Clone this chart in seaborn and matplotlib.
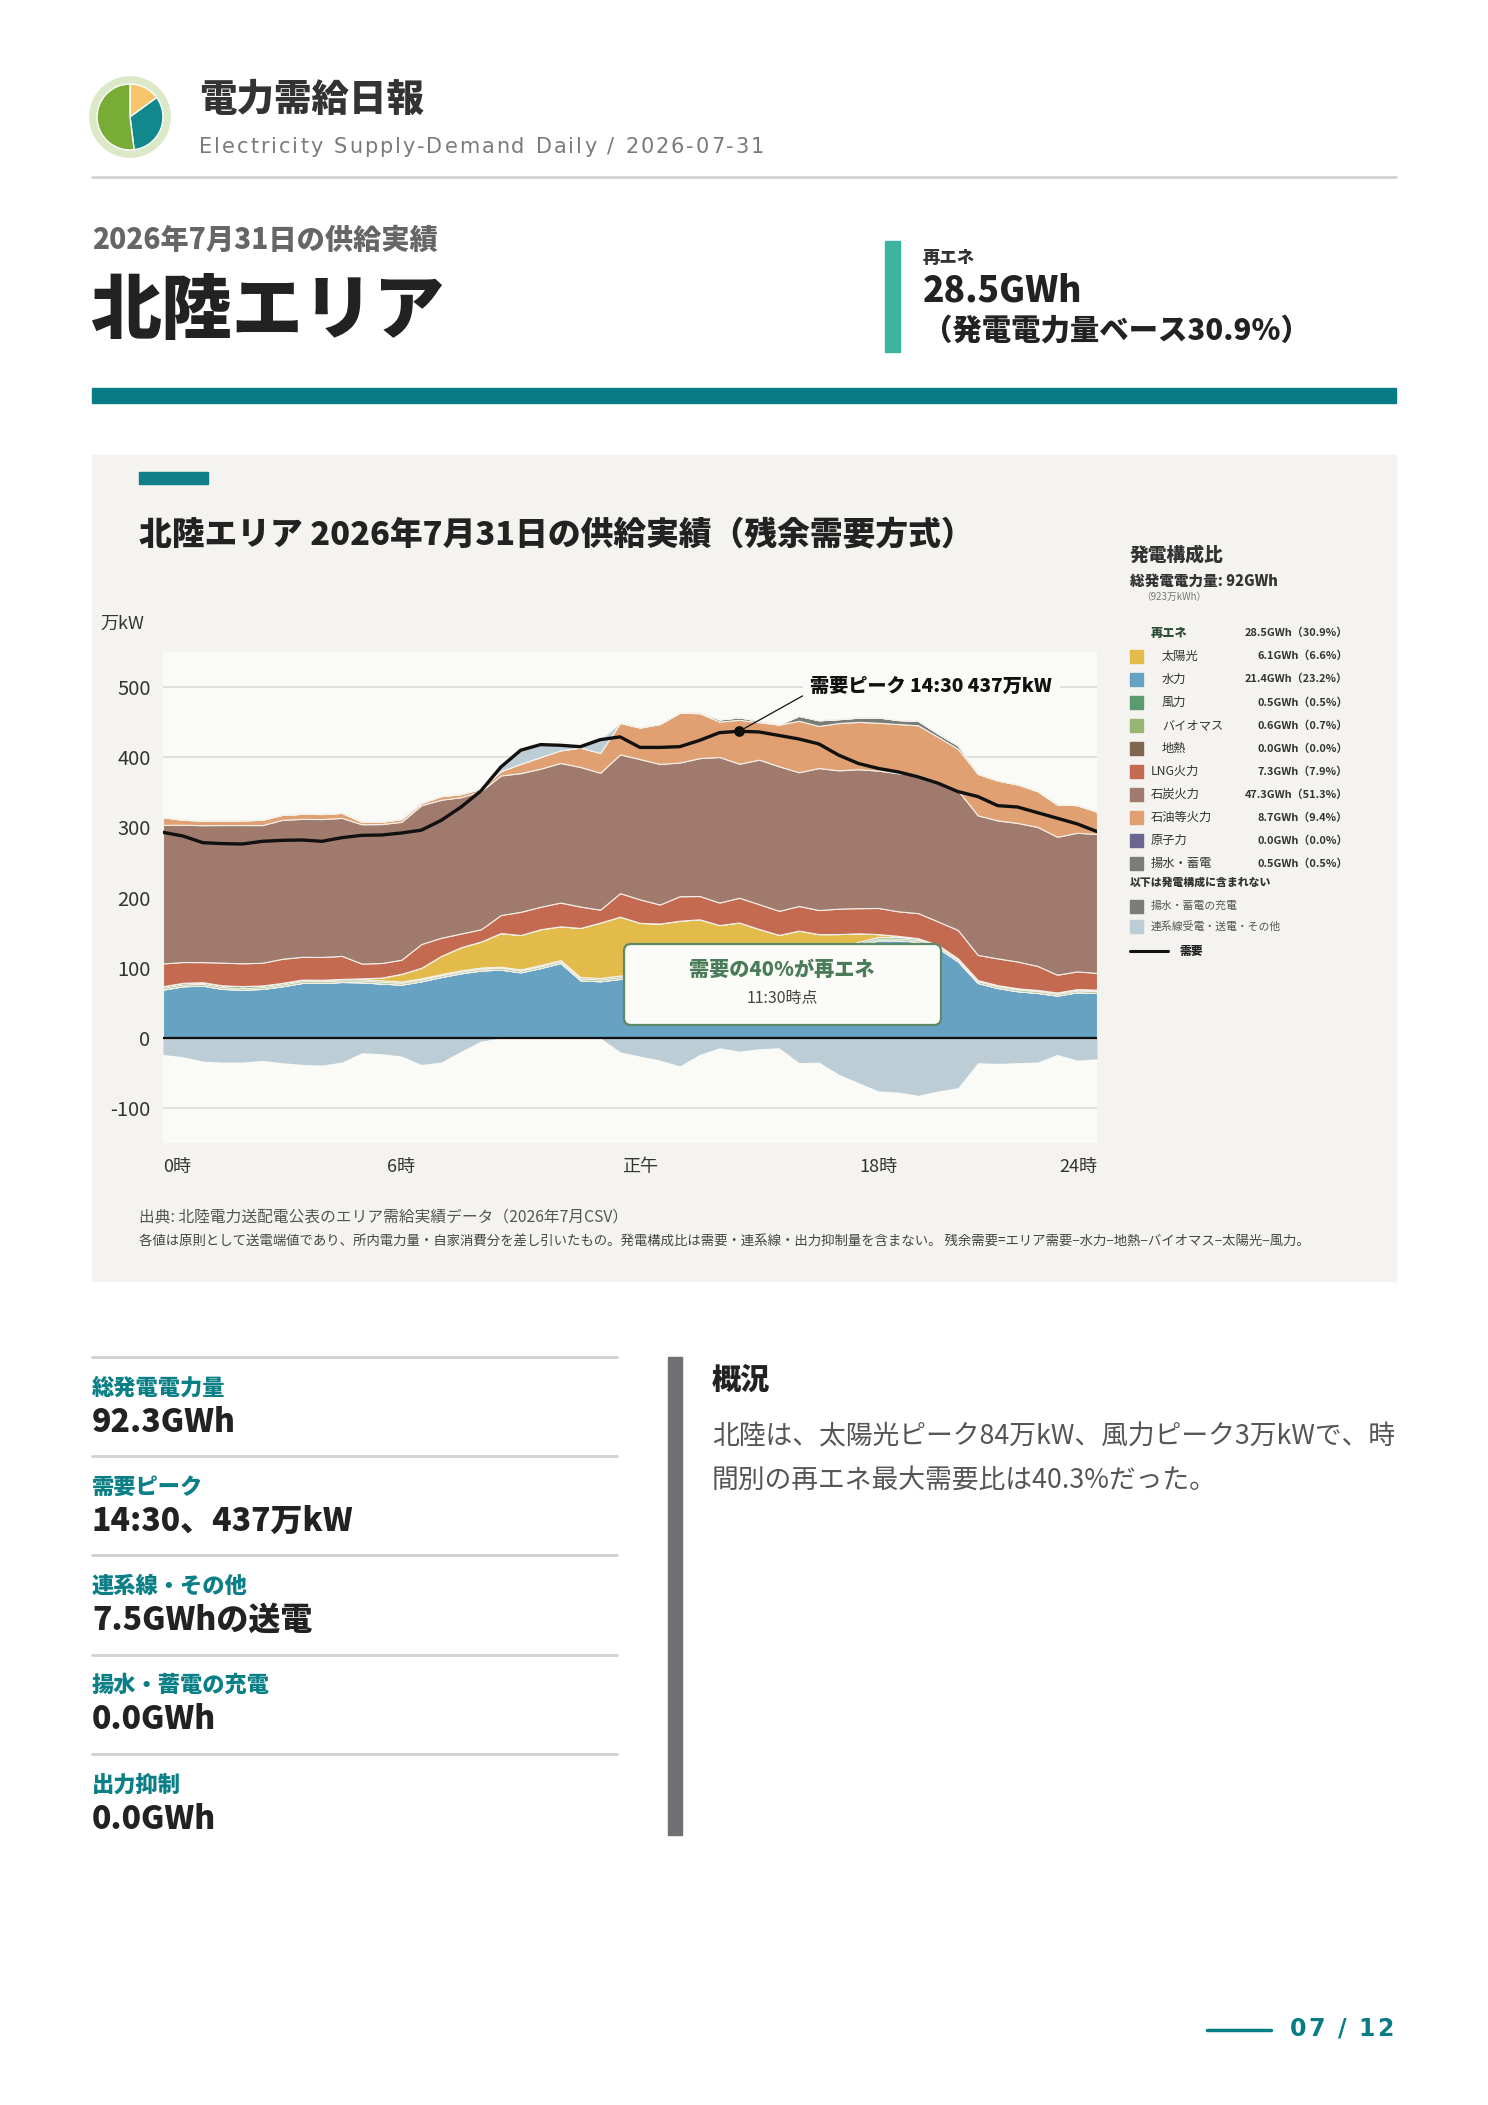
import numpy as np
import matplotlib
matplotlib.use("Agg")
import matplotlib.pyplot as plt
from matplotlib.patches import Rectangle, FancyBboxPatch, Circle
import seaborn as sns

# ---- 北陸エリア 2026-07-31, 30分値 (万kW) ----
hours = np.arange(0, 24, 0.5)

hydro = [68.7, 73.5, 74.4, 69.7, 68.7, 69.7, 73.5, 78.2, 78.2, 79.6, 79.1, 77.3,
         75.8, 80.6, 86.7, 92.0, 96.0, 97.2, 93.4, 99.5, 106.6, 82.0, 80.6, 84.0,
         85.0, 84.0, 90.0, 95.7, 93.4, 102.2, 99.7, 99.2, 111.4, 114.7, 122.7, 132.0,
         139.0, 139.0, 137.0, 128.0, 109.0, 78.2, 71.0, 66.4, 64.0, 60.2, 65.0, 64.0]
geothermal = [0.0] * 48
biomass = [2.5, 2.5, 2.6, 2.5, 2.4, 2.5, 2.5, 2.6, 2.5, 2.4, 2.5, 2.5,
           2.6, 2.5, 2.5, 2.4, 2.5, 2.6, 2.5, 2.5, 2.4, 2.5, 2.6, 2.5,
           2.5, 2.4, 2.5, 2.6, 2.5, 2.5, 2.4, 2.5, 2.6, 2.5, 2.5, 2.4,
           2.5, 2.6, 2.5, 2.5, 2.4, 2.5, 2.5, 2.6, 2.5, 2.5, 2.4, 2.5]
wind = [2.3, 2.4, 2.2, 2.5, 2.6, 2.4, 2.3, 2.2, 2.0, 1.9, 2.1, 2.0,
        1.8, 1.7, 1.6, 1.8, 1.7, 1.5, 1.6, 1.8, 1.9, 2.1, 2.0, 2.2,
        2.3, 2.5, 2.4, 2.6, 2.8, 2.7, 2.9, 3.0, 2.8, 2.6, 2.7, 2.5,
        2.3, 2.2, 2.0, 1.9, 1.8, 1.6, 1.5, 1.6, 1.7, 1.9, 2.0, 2.1]
solar = [0, 0, 0, 0, 0, 0, 0, 0, 0, 0, 1.0, 4.0,
         11.0, 15.0, 26.0, 33.0, 37.0, 48.0, 49.0, 51.0, 48.0, 70.0, 79.0, 84.0,
         74.0, 74.0, 72.0, 68.0, 62.0, 57.0, 50.0, 42.0, 36.0, 28.0, 20.0, 12.0,
         4.0, 1.5, 0.5, 0, 0, 0, 0, 0, 0, 0, 0, 0]
nuclear = [0.0] * 48
lng = [32.5, 29.6, 28.7, 32.4, 32.5, 32.4, 34.3, 32.5, 32.5, 32.9, 21.1, 20.8,
       20.1, 33.9, 25.8, 19.5, 17.5, 25.7, 33.1, 32.0, 33.9, 30.5, 18.4, 33.5,
       33.5, 27.1, 34.9, 33.2, 32.1, 35.3, 35.4, 34.3, 35.1, 34.3, 36.2, 35.9,
       37.3, 35.0, 35.7, 33.4, 40.5, 35.8, 38.2, 38.1, 34.3, 25.3, 25.3, 23.9]
coal = [197.6, 195.7, 195.2, 196.2, 197.1, 196.2, 198.1, 196.6, 196.6, 196.7, 198.6, 198.1,
        196.6, 197.8, 196.8, 194.3, 197.0, 199.0, 197.7, 196.9, 199.0, 199.0, 195.2, 197.8,
        200.0, 200.4, 190.6, 196.6, 207.5, 191.0, 206.1, 206.0, 190.7, 202.4, 197.2, 198.1,
        195.8, 196.8, 196.7, 199.1, 199.0, 199.0, 196.7, 197.6, 198.2, 196.7, 197.6, 198.1]
oil = [10.9, 7.1, 6.7, 6.7, 6.7, 7.6, 7.1, 7.2, 7.2, 7.2, 3.7, 3.3,
       4.0, 3.2, 5.2, 4.4, 3.5, 6.2, 13.3, 16.6, 18.0, 27.7, 28.3, 45.0,
       45.0, 57.0, 71.0, 64.0, 50.5, 62.6, 53.3, 59.5, 73.3, 60.1, 67.4, 67.5,
       68.2, 70.2, 71.1, 64.0, 59.3, 59.3, 56.9, 55.0, 51.0, 46.0, 39.4, 31.8]
pumped = [0, 0, 0, 0, 0, 0, 0, 0, 0, 0, 0, 0,
          0, 0, 0, 0, 0, 0, 0, 0, 0, 0, 0, 0,
          0, 0, 0, 1.0, 3.0, 3.5, 2.0, 0, 7.0, 8.0, 5.5, 6.0,
          7.6, 5.6, 6.2, 4.6, 4.7, 0, 0, 0, 0, 0, 0, 0]
# 連系線: +受電 / -送電
tie_line = [-23.7, -27.0, -33.2, -34.6, -34.6, -32.2, -35.5, -37.9, -38.9, -34.6, -21.3, -22.7,
            -26.0, -38.0, -34.6, -19.0, -4.7, 7.0, 19.0, 17.0, 7.0, 2.0, 19.0, -20.0,
            -26.0, -31.8, -40.0, -23.7, -14.2, -19.0, -15.6, -14.2, -35.5, -34.6, -52.0, -64.0,
            -75.8, -77.3, -82.0, -75.8, -71.0, -35.5, -36.5, -35.5, -34.6, -23.7, -31.8, -29.9]
charge = [0.0] * 48
demand = [292.9, 287.7, 278.2, 276.8, 276.3, 280.1, 281.5, 282.0, 280.1, 285.3, 288.6, 289.1,
          292.0, 296.0, 310.0, 329.0, 352.0, 386.0, 410.0, 418.0, 417.0, 415.0, 425.0, 429.0,
          414.0, 414.0, 415.0, 424.0, 435.0, 437.0, 436.0, 431.0, 426.0, 419.0, 403.0, 391.0,
          384.0, 379.0, 372.0, 363.0, 351.0, 344.0, 331.0, 329.0, 321.0, 313.0, 305.0, 294.0]

# 発電構成比
mix_names = ["太陽光", "水力", "風力", "バイオマス", "地熱", "LNG火力", "石炭火力", "石油等火力", "原子力", "揚水・蓄電"]
mix_gwh = [6.1, 21.4, 0.5, 0.6, 0.0, 7.3, 47.3, 8.7, 0.0, 0.5]
mix_pct = [6.6, 23.2, 0.5, 0.7, 0.0, 7.9, 51.3, 9.4, 0.0, 0.5]
renew_gwh, renew_pct = 28.5, 30.9
total_gwh = 92

kpi_labels = ["総発電電力量", "需要ピーク", "連系線・その他", "揚水・蓄電の充電", "出力抑制"]
kpi_values = ["92.3GWh", "14:30、437万kW", "7.5GWhの送電", "0.0GWh", "0.0GWh"]

yticks = [-100, 0, 100, 200, 300, 400, 500]
xticks = [0, 6, 12, 18, 23.5]
xtick_labels = ["0時", "6時", "正午", "18時", "24時"]

logo_share = [15, 33, 52]

colors = {
    "solar": "#e3bb4a", "hydro": "#67a2c3", "wind": "#5c9b70", "biomass": "#97b574",
    "geo": "#806651", "lng": "#c46a51", "coal": "#a07a6d", "oil": "#e0a072",
    "nuclear": "#6c6590", "pumped": "#7a7d75", "tie": "#bccdd5",
}
TEAL = "#087c86"

sns.set_theme(style="white")
plt.rcParams["font.family"] = ["Noto Sans CJK JP", "DejaVu Sans"]
plt.rcParams["axes.unicode_minus"] = False

W, H = 1488, 2105
fig = plt.figure(figsize=(W / 100, H / 100), dpi=100)
fig.patch.set_facecolor("white")
renderer = fig.canvas.get_renderer()

# background layer (pixel coordinates)
bg = fig.add_axes([0, 0, 1, 1], zorder=0)
bg.set_xlim(0, W)
bg.set_ylim(H, 0)
bg.axis("off")

# overlay layer for texts
top = fig.add_axes([0, 0, 1, 1], zorder=3)
top.set_xlim(0, W)
top.set_ylim(H, 0)
top.axis("off")
top.patch.set_alpha(0)


def tracked(x, y, s, track, size, **kw):
    # letter-spaced text, one glyph at a time
    cx = x
    for ch in s:
        if ch == " ":
            cx += size * 0.33 * 100 / 72 + track
            continue
        t = top.text(cx, y, ch, fontsize=size, va="center", **kw)
        cx += t.get_window_extent(renderer=renderer).width + track


# ---- header ----
logo = fig.add_axes([(130 - 41) / W, 1 - (117 + 41) / H, 82 / W, 82 / H], zorder=1)
logo.add_patch(Circle((0, 0), 1.0, color="#dbe9c9"))
logo.pie(logo_share, colors=["#f7c46c", "#10888c", "#79ac37"], startangle=90,
         counterclock=False, radius=0.82)
logo.set_xlim(-1.02, 1.02)
logo.set_ylim(-1.02, 1.02)
logo.set_aspect("equal")
logo.axis("off")

top.text(199, 100, "電力需給日報", fontsize=27, weight="heavy", color="#333333", va="center")
tracked(199, 147, "Electricity Supply-Demand Daily / 2026-07-31", 2.0, 15,
        color="#7a7a7a", family=["DejaVu Sans"])
bg.plot([92, 1396], [177, 177], color="#d3d3d3", lw=2)

top.text(92, 240, "2026年7月31日の供給実績", fontsize=20.3, weight="heavy", color="#666666", va="center")
top.text(90, 312, "北陸エリア", fontsize=51, weight="heavy", color="#222222", va="center")
bg.add_patch(Rectangle((885, 241), 15, 111, color="#3cb4a0"))
top.text(923, 258, "再エネ", fontsize=12.5, weight="heavy", color="#333333", va="center")
top.text(923, 291, f"{renew_gwh}GWh", fontsize=25.5, weight="heavy", color="#222222", va="center")
top.text(923, 331, f"（発電電力量ベース{renew_pct}%）", fontsize=21.2, weight="heavy",
         color="#222222", va="center")
bg.add_patch(Rectangle((92, 388), 1304, 15, color=TEAL))

# ---- chart panel ----
bg.add_patch(Rectangle((92, 455), 1304, 826, color="#f4f3ef"))
bg.add_patch(Rectangle((139, 472), 69, 12, color="#117f87"))
top.text(139, 536, "北陸エリア 2026年7月31日の供給実績（残余需要方式）", fontsize=23.6,
         weight="heavy", color="#222222", va="center")
top.text(100, 624, "万kW", fontsize=13, color="#333333", va="center")

ax = fig.add_axes([163 / W, 1 - 1143 / H, 934 / W, 491 / H], zorder=2)
ax.set_facecolor("#fafaf7")

tie = np.array(tie_line)
tie_in = np.clip(tie, 0, None)
tie_out = np.clip(tie, None, 0)

pos_layers = [hydro, geothermal, biomass, wind, solar, nuclear, lng, coal, oil, pumped, tie_in]
pos_cols = [colors[k] for k in ["hydro", "geo", "biomass", "wind", "solar", "nuclear",
                                "lng", "coal", "oil", "pumped", "tie"]]
ax.stackplot(hours, pos_layers, colors=pos_cols, edgecolor="#f4f1ea", linewidth=0.8, zorder=2)
ax.stackplot(hours, [tie_out, -np.array(charge)], colors=[colors["tie"], colors["pumped"]],
             linewidth=0, zorder=2)

sns.lineplot(x=hours, y=demand, ax=ax, color="#111111", linewidth=2.4, zorder=4)
ax.axhline(0, color="#111111", lw=1.6, zorder=3)

ax.set_xlim(0, 23.5)
ax.set_ylim(-150, 550)
ax.set_yticks(yticks)
ax.set_yticklabels([str(v) for v in yticks])
ax.set_xticks(xticks)
ax.set_xticklabels(xtick_labels)
ax.yaxis.grid(True, color="#dedede", lw=1.3, zorder=0)
ax.set_axisbelow(True)
ax.tick_params(axis="y", length=0, pad=9, labelsize=14.5, labelcolor="#333333")
ax.tick_params(axis="x", length=0, pad=11, labelsize=13, labelcolor="#333333")
xl = ax.get_xticklabels()
xl[0].set_ha("left")
xl[-1].set_ha("right")
ax.set_xlabel("")
ax.set_ylabel("")
for s in ax.spines.values():
    s.set_visible(False)

# peak annotation
ipk = int(np.argmax(demand))
pk_t = f"{int(hours[ipk]):d}:{int(round((hours[ipk] % 1) * 60)):02d}"
ax.scatter([hours[ipk]], [demand[ipk]], s=45, color="#111111", zorder=5)
ax.annotate(f"需要ピーク {pk_t} {demand[ipk]:.0f}万kW", xy=(hours[ipk], demand[ipk]),
            xytext=(0.693, 0.929), textcoords="axes fraction", ha="left", va="center",
            fontsize=13.8, weight="heavy", color="#111111", zorder=6,
            bbox=dict(boxstyle="square,pad=0.4", fc="#fafaf7", ec="none"),
            arrowprops=dict(arrowstyle="-", color="#111111", lw=0.9,
                            relpos=(0, 0.25), shrinkA=0, shrinkB=0))

# renewable ratio box
renew = np.array(hydro) + np.array(solar) + np.array(wind) + np.array(biomass) + np.array(geothermal)
ratio = renew / np.array(demand) * 100
ir = int(np.argmax(ratio))
ir_t = f"{int(hours[ir]):d}:{int(round((hours[ir] % 1) * 60)):02d}"
top.add_patch(FancyBboxPatch((624, 944), 317, 81, boxstyle="round,pad=0,rounding_size=7",
                             fc="#fbfbf8", ec="#5c8a68", lw=1.6))
top.text(782, 970, f"需要の{ratio[ir]:.0f}%が再エネ", fontsize=14.5, weight="heavy",
         color="#4a7c59", ha="center", va="center")
top.text(782, 998, f"{ir_t}時点", fontsize=11.5, color="#444444", ha="center", va="center")

# ---- legend ----
lx = 1130
vx = 1348
top.text(lx, 555, "発電構成比", fontsize=13.5, weight="heavy", color="#333333", va="center")
top.text(lx, 581, f"総発電電力量: {total_gwh}GWh", fontsize=10.5, weight="heavy", color="#333333", va="center")
top.text(1141, 597, "（923万kWh）", fontsize=7, color="#777777", va="center")

row0, step = 633, 23.05
top.text(1151, row0, "再エネ", fontsize=8.8, weight="heavy", color="#2e4d36", va="center")
top.text(vx, row0, f"{renew_gwh}GWh（{renew_pct}%）", fontsize=7.9, weight="bold",
         color="#333333", va="center", ha="right")
mix_cols = ["solar", "hydro", "wind", "biomass", "geo", "lng", "coal", "oil", "nuclear", "pumped"]
for i, (nm, g, p, ck) in enumerate(zip(mix_names, mix_gwh, mix_pct, mix_cols)):
    y = row0 + step * (i + 1)
    top.add_patch(Rectangle((lx, y - 6.5), 13, 13, color=colors[ck]))
    tx = 1162 if i < 5 else 1151
    top.text(tx, y, nm, fontsize=8.8, color="#333333", va="center")
    top.text(vx, y, f"{g}GWh（{p}%）", fontsize=7.9, weight="bold", color="#333333",
             va="center", ha="right")
top.text(lx, 882, "以下は発電構成に含まれない", fontsize=7.8, weight="heavy", color="#333333", va="center")
for y, nm, ck in [(906, "揚水・蓄電の充電", "pumped"), (926, "連系線受電・送電・その他", "tie")]:
    top.add_patch(Rectangle((lx, y - 6.5), 13, 13, color=colors[ck]))
    top.text(1151, y, nm, fontsize=7.8, color="#555555", va="center")
top.plot([lx, 1168], [951, 951], color="#111111", lw=2.2)
top.text(1179, 951, "需要", fontsize=8.5, weight="heavy", color="#222222", va="center")

# ---- source notes ----
top.text(139, 1218, "出典: 北陸電力送配電公表のエリア需給実績データ（2026年7月CSV）", fontsize=11.3,
         color="#555555", va="center")
top.text(139, 1242, "各値は原則として送電端値であり、所内電力量・自家消費分を差し引いたもの。"
         "発電構成比は需要・連系線・出力抑制量を含まない。 "
         "残余需要=エリア需要−水力−地熱−バイオマス−太陽光−風力。",
         fontsize=9.65, color="#444444", va="center")

# ---- KPI list ----
for i, (lab, val) in enumerate(zip(kpi_labels, kpi_values)):
    y0 = 1357 + 99.2 * i
    bg.plot([92, 617], [y0, y0], color="#d0d0d0", lw=2)
    top.text(92, y0 + 31, lab, fontsize=16, weight="heavy", color="#0a7f86", va="center")
    top.text(92, y0 + 65, val, fontsize=23, weight="heavy", color="#222222", va="center")

bg.add_patch(Rectangle((668, 1357), 14, 478, color="#707074"))
top.text(712, 1380, "概況", fontsize=21, weight="heavy", color="#222222", va="center")
top.text(712, 1437, "北陸は、太陽光ピーク84万kW、風力ピーク3万kWで、時", fontsize=19.3,
         color="#555555", va="center")
top.text(712, 1480, "間別の再エネ最大需要比は40.3%だった。", fontsize=19.3,
         color="#555555", va="center")

# ---- footer ----
bg.plot([1207, 1271], [2030, 2030], color=TEAL, lw=2.5)
tracked(1290, 2029, "07 / 12", 2.3, 17, color=TEAL, weight="bold", family=["DejaVu Sans"])

fig.savefig("out.png", dpi=100, facecolor="white")
